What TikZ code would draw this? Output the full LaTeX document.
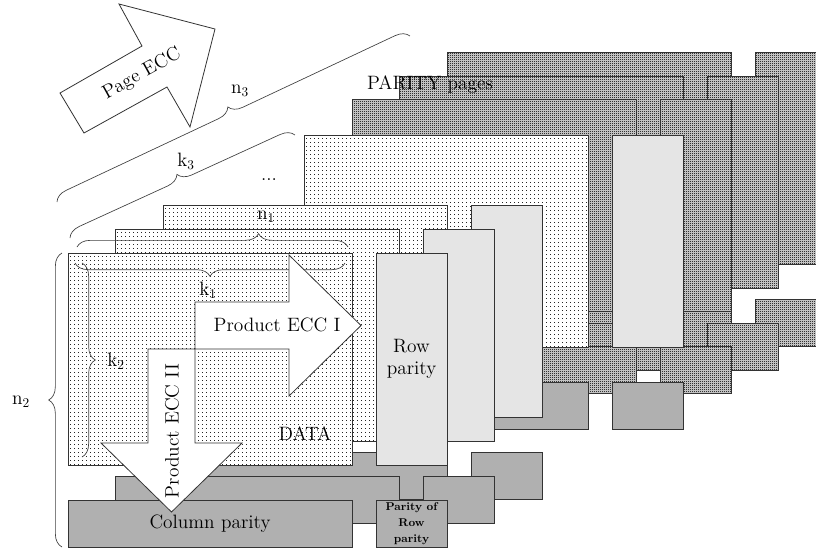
\documentclass[tikz,border=0pt]{standalone}
\usepackage{tikz}
\usetikzlibrary{patterns,decorations.pathreplacing,positioning}

\pgfdeclarepatternformonly{densedots}{\pgfqpoint{-1pt}{-1pt}}{\pgfqpoint{2pt}{2pt}}%
    {\pgfqpoint{1.5pt}{1.5pt}}{\pgfpathrectangle{\pgfqpoint{-0.35pt}{-0.35pt}}%
    {\pgfqpoint{0.7pt}{0.7pt}}\pgfusepath{fill}}

\begin{document}
\begin{tikzpicture}
            [
            x=0.75pt, y=-0.75pt,
            every node/.style={font=\fontsize{14.5}{17}\selectfont},
            box/.style={draw=black!80, line width=0.6pt},
            dotrow/.style={black!85, line width=0.75pt, dash pattern=on 0.75pt off 2.25pt},
            parityfill/.style={box, preaction={fill=gray!48}, pattern=densedots,
                pattern color=black!80},
            lightfill/.style={box, fill=gray!20},
            darkfill/.style={box, fill=gray!62},
            bigarrow/.style={draw=black!80, line width=0.6pt, fill=white},
            curly/.style={decorate, decoration={brace, amplitude=10pt, aspect=#1},
                draw=black!75, line width=0.5pt},
            curly/.default=0.5
            ]

            \useasboundingbox (0,0) rectangle (816,551);
            \clip (0,0) rectangle (816,551);

            % Parity pages, back to front
            \foreach \i/\dx/\dy in {8/379/-201, 7/331/-177, 6/284/-154}{
                \draw [parityfill] (68+\dx,253+\dy) rectangle (352+\dx,465+\dy);
                \draw [parityfill] (376+\dx,253+\dy) rectangle (447+\dx,465+\dy);
                \draw [parityfill] (68+\dx,500+\dy) rectangle (352+\dx,547+\dy);
                \draw [parityfill] (376+\dx,500+\dy) rectangle (447+\dx,547+\dy);
            }

            % Data pages
            \foreach \i/\dx/\dy in {5/236/-118, 2/95/-48, 1/47/-24, 0/0/0}{
                \fill [white] (68+\dx,253+\dy) rectangle (352+\dx,465+\dy);
                \foreach \yy in {3,7,...,211}
                    \draw [dotrow] (70+\dx,253+\dy+\yy) -- (352+\dx,253+\dy+\yy);
                \draw [box] (68+\dx,253+\dy) rectangle (352+\dx,465+\dy);
                \draw [lightfill] (376+\dx,253+\dy) rectangle (447+\dx,465+\dy);
                \draw [darkfill] (68+\dx,500+\dy) rectangle (352+\dx,547+\dy);
                \draw [darkfill] (376+\dx,500+\dy) rectangle (447+\dx,547+\dy);
            }

            % Braces
            \coordinate (n3a) at (57,202);
            \coordinate (n3b) at (410,36);
            \coordinate (k3a) at (70,238);
            \coordinate (k3b) at (295,135);
            \coordinate (n1a) at (77,247);
            \coordinate (n1b) at (348,247);
            \coordinate (k1a) at (345,263);
            \coordinate (k1b) at (75,263);
            \coordinate (k2a) at (82,263);
            \coordinate (k2b) at (82,457);
            \coordinate (n2a) at (62,547);
            \coordinate (n2b) at (62,253);

            \draw [curly] (n3a) -- (n3b);
            \draw [curly] (k3a) -- (k3b);
            \draw [curly=0.67] (n1a) -- (n1b);
            \draw [curly] (k1a) -- (k1b);
            \draw [curly] (k2a) -- (k2b);
            \draw [curly] (n2a) -- (n2b);

            \node (n3) at (240,91) {n$_3$};
            \node (k3) at (186,161) {k$_3$};
            \node (n1) at (266,217) {n$_1$};
            \node (k1) at (208,290) {k$_1$};
            \node (k2) at (116,361) {k$_2$};
            \node (n2) at (21,402) {n$_2$};

            \node (gap) at (269,180) {...};
            \node (partxt) at (430,85) {PARITY pages};

            % ECC arrows
            \draw [bigarrow] (119,4) -- (215,29) -- (190,127) -- (167,87)
                -- (84,133) -- (60,93) -- (142,46) -- cycle;
            \draw [bigarrow] (195,302) -- (289,302) -- (289,255) -- (361,325.5)
                -- (289,396) -- (289,349) -- (195,349) -- cycle;
            \draw [bigarrow] (148,349) -- (195,349) -- (195,443) -- (242,443)
                -- (171.5,512) -- (101,443) -- (148,443) -- cycle;

            \node (pageecc) [rotate=29] at (142,74) {Page ECC};
            \node (ecc1) at (277,325) {Product ECC I};
            \node (ecc2) [rotate=90] at (172,431) {Product ECC II};

            \node (datatxt) at (305,434) {DATA};
            \node (rowtxt) [align=center] at (411.5,359) {Row\\parity};
            \node (coltxt) at (210,523.5) {Column parity};
            \node (rrtxt) [align=center, font=\fontsize{8.5}{12}\selectfont\bfseries]
                at (411.5,523.5) {Parity of\\Row\\parity};

        \end{tikzpicture}
\end{document}
